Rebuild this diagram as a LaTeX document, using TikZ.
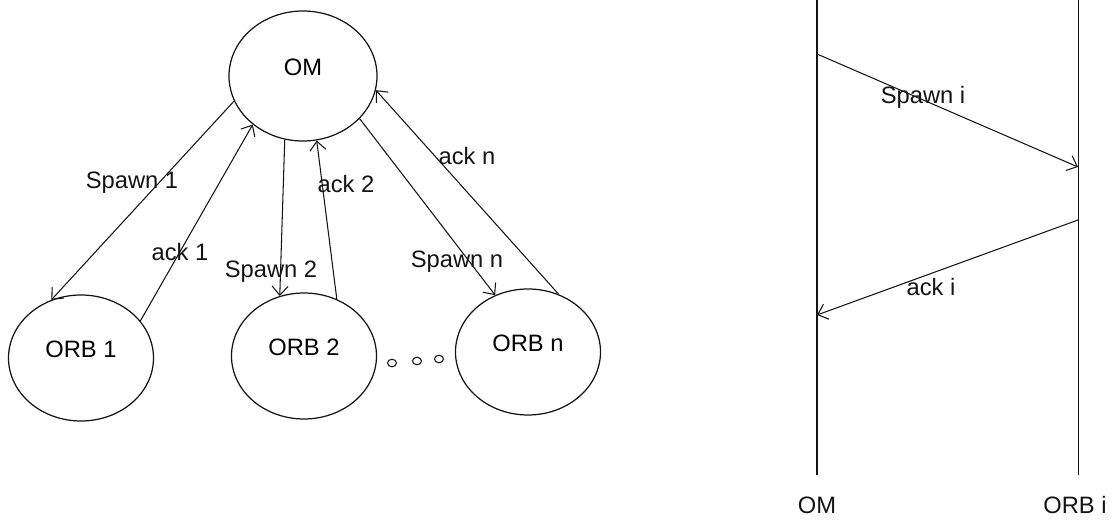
\documentclass[tikz,border=0pt]{standalone}
\usepackage{fontspec}
\setmainfont{Liberation Sans}
\usetikzlibrary{arrows.meta,shapes.geometric}
\definecolor{tinte}{HTML}{141414}
\tikzset{
  knoten/.style={draw=tinte,ellipse,line width=0.7pt,inner sep=0pt,minimum width=2.9cm,minimum height=2.52cm,text depth=0.36cm},
  pfeil/.style={-{Straight Barb[length=1.8mm,width=3.2mm]},tinte,line width=0.6pt},
  linie/.style={tinte,line width=0.6pt},
  beschr/.style={tinte,inner sep=1pt},
}
\begin{document}
\begin{tikzpicture}[font=\fontsize{13.5pt}{16pt}\selectfont]
  \useasboundingbox (0,0) rectangle (22.24,10.42);
  % --- Baum ---
  \node[knoten,minimum width=2.96cm,minimum height=2.6cm] (om) at (6.06,8.90) {OM};
  \node[knoten] (orb1) at (1.62,3.26) {ORB 1\hspace{0.6cm}};
  \node[knoten] (orb2) at (6.08,3.30) {ORB 2};
  \node[knoten] (orbn) at (10.56,3.38) {ORB n};
  \foreach \x/\y in {7.84/3.16,8.34/3.20,8.78/3.24}
    \draw[linie] (\x,\y) ellipse (0.09 and 0.075);
  % --- Nachrichten ---
  \draw[pfeil] (om.200) -- (orb1.117);
  \draw[pfeil] (orb1.32) -- (om.224);
  \draw[pfeil] (om.254) -- (orb2.112);
  \draw[pfeil] (orb2.60) -- (om.282);
  \draw[pfeil] (om.323) -- (orbn.120);
  \draw[pfeil] (orbn.62) -- (om.349);
  \node[beschr] (sp1) at (2.64,6.76) {Spawn 1};
  \node[beschr] (ack1) at (3.60,5.38) {ack 1};
  \node[beschr] (sp2) at (5.42,4.98) {Spawn 2};
  \node[beschr] (ack2) at (6.92,6.74) {ack 2};
  \node[beschr] (spn) at (9.14,5.18) {Spawn n};
  \node[beschr] (ackn) at (9.34,7.30) {ack n};
  % --- Ablauf ---
  \coordinate (omo) at (16.34,10.42);
  \coordinate (omu) at (16.34,0.92);
  \coordinate (orbo) at (21.56,10.42);
  \coordinate (orbu) at (21.56,0.92);
  \draw[linie] (omo) -- (omu);
  \draw[linie,line width=0.4pt] (orbo) -- (orbu);
  \coordinate (spa) at (16.34,9.34);
  \coordinate (spe) at (21.56,7.08);
  \coordinate (aka) at (21.56,6.02);
  \coordinate (ake) at (16.34,4.12);
  \draw[pfeil] (spa) -- (spe);
  \draw[pfeil] (aka) -- (ake);
  \node[beschr] (spi) at (18.46,8.48) {Spawn i};
  \node[beschr] (acki) at (18.62,4.68) {ack i};
  \node[beschr] (omt) at (16.34,0.32) {OM};
  \node[beschr] (orbt) at (21.50,0.32) {ORB i};
\end{tikzpicture}
\end{document}
